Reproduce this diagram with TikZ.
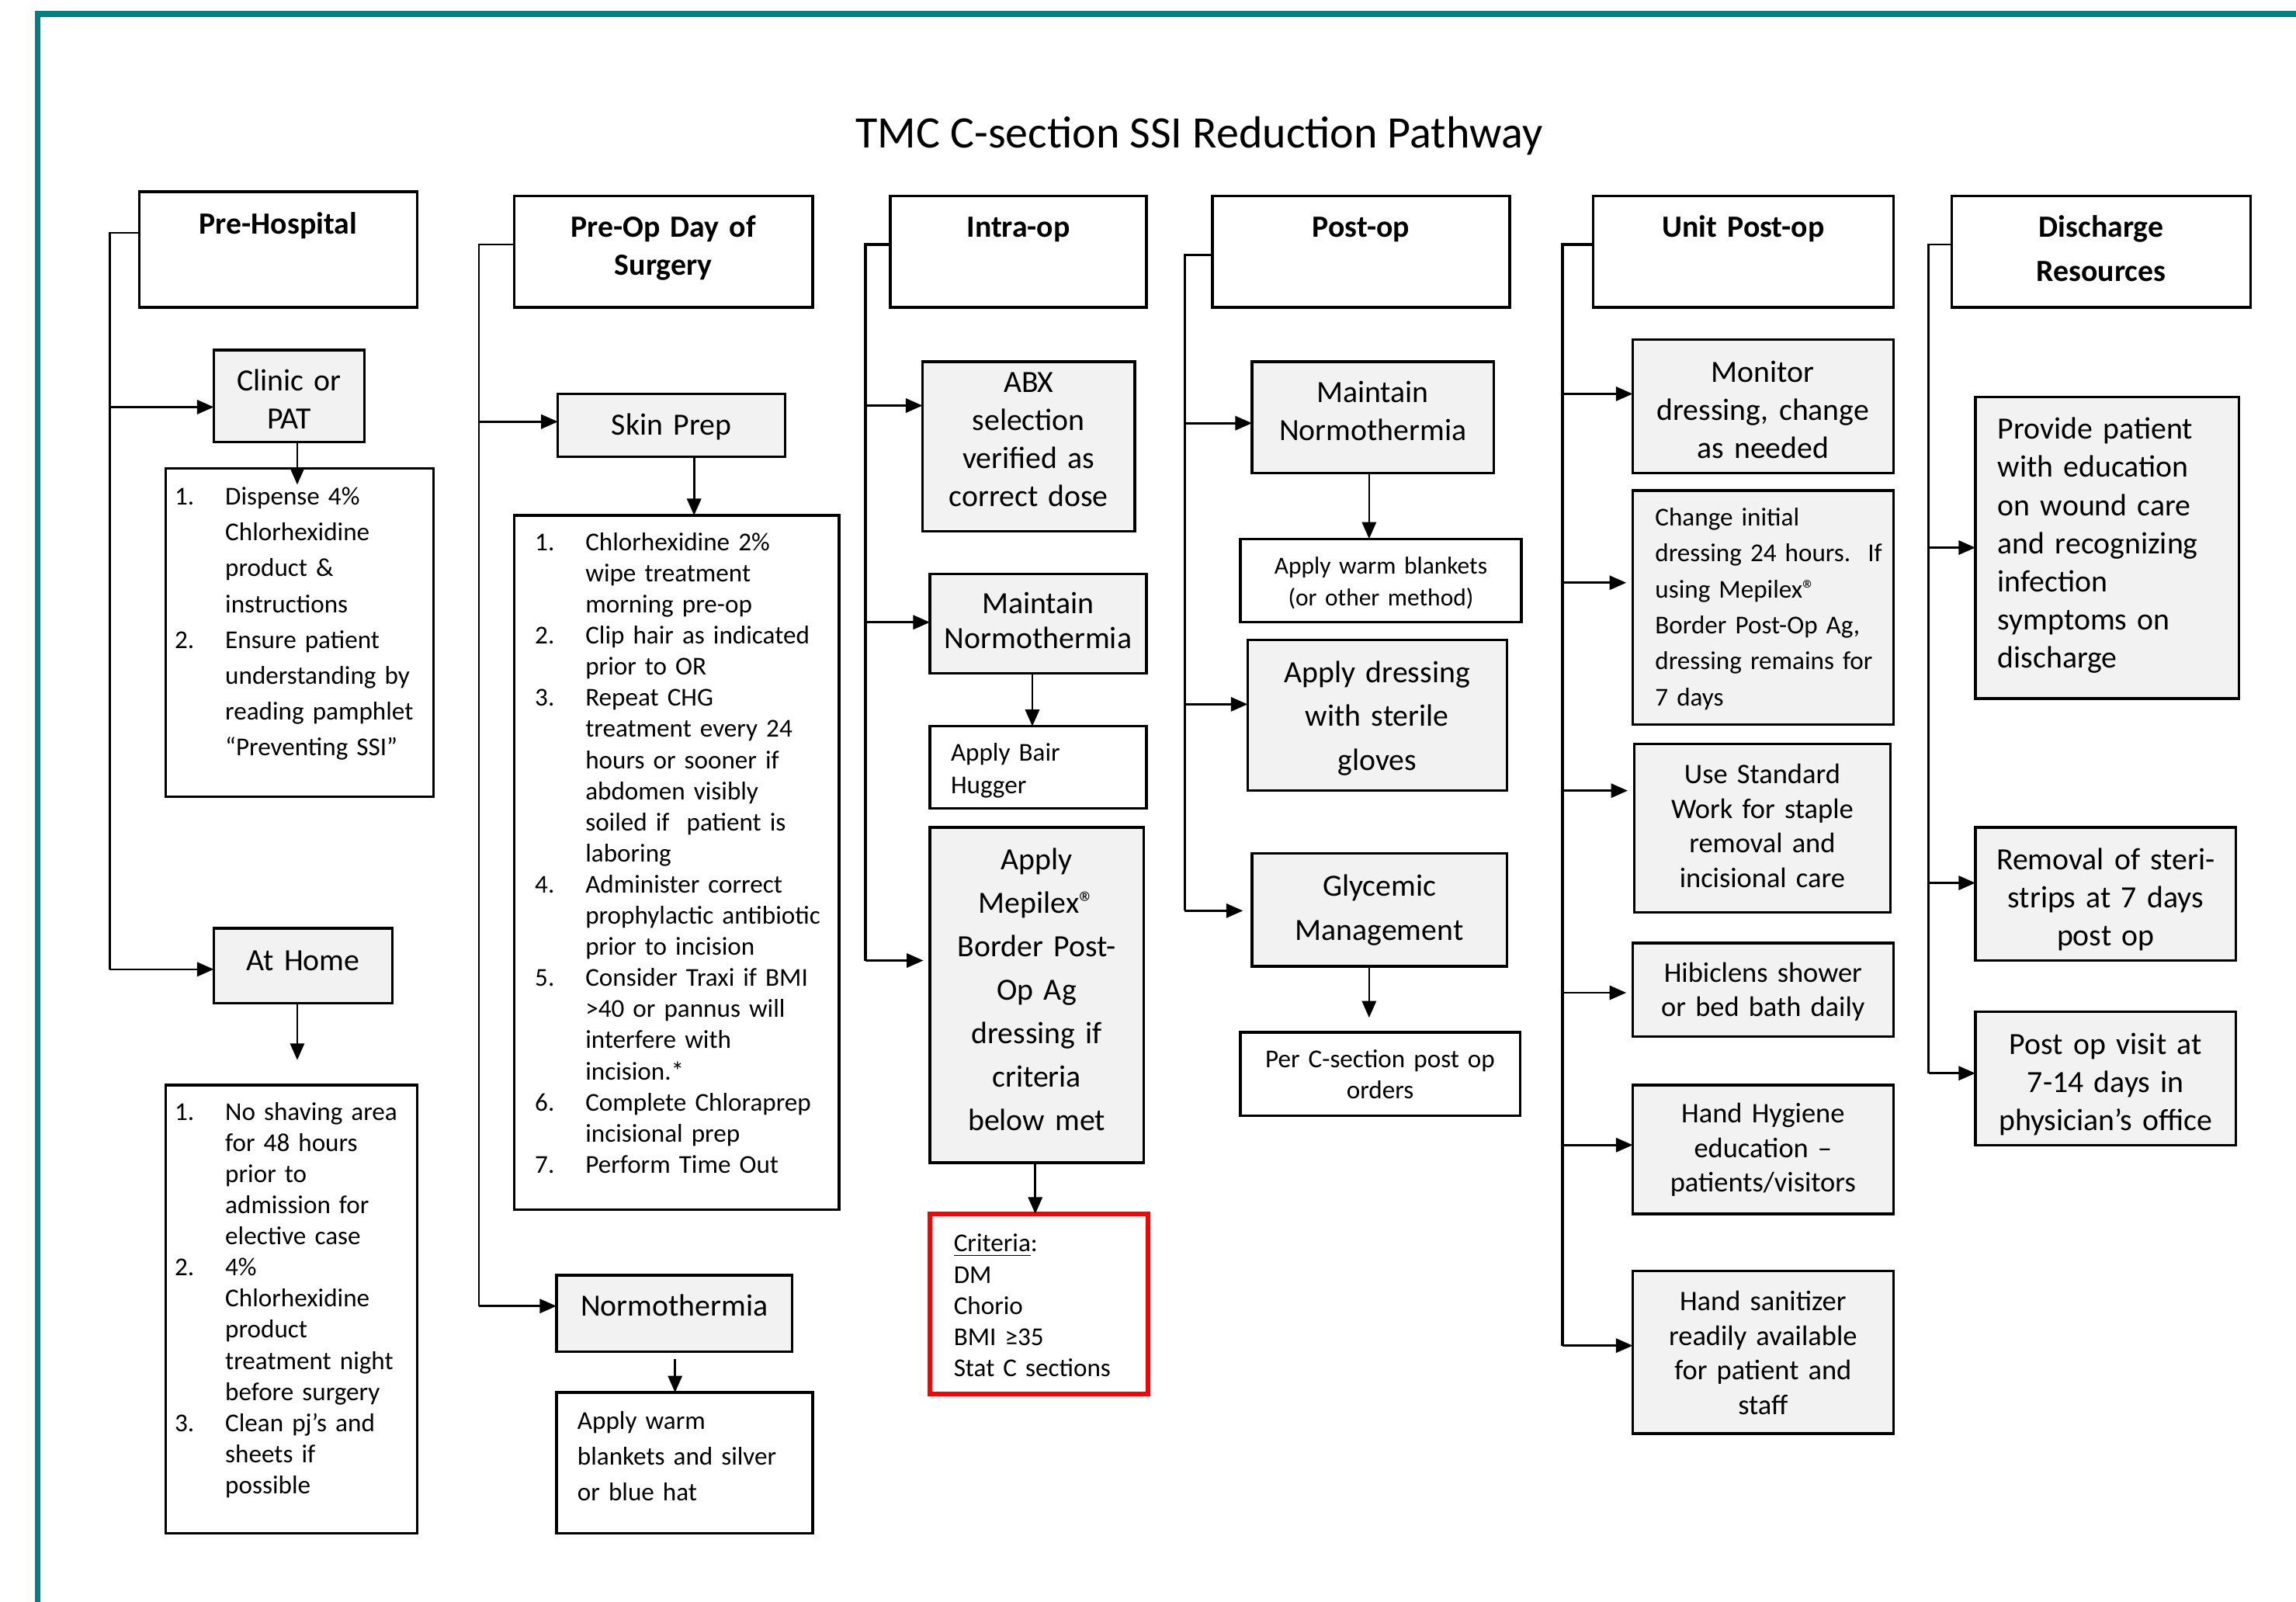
\documentclass[tikz,border=0pt]{standalone}
\usepackage{fontspec}
\setmainfont{Carlito}
\usetikzlibrary{arrows.meta}
\definecolor{teal1}{RGB}{0,128,128}
\definecolor{boxgray}{RGB}{242,242,242}
\newcommand\fs[2]{\fontsize{#1}{#2}\selectfont}
\newcommand\regmark{®}
\newlength\listind
\setlength\listind{0.69cm}
\newcommand\li[2]{\hangindent=\listind\hangafter=1\makebox[\listind][l]{#1}#2\par}
\newcommand\boxat[6]{\node[#1, minimum width={(#5-#3)*0.02cm}, minimum height={(#6-#4)*0.02cm}] (#2) at ({(#3+#5)/2},{(#4+#6)/2}) {};}
\begin{document}
\begin{tikzpicture}[x=0.02cm,y=-0.02cm,
  box/.style={draw, line width=1pt, inner sep=0pt, outer sep=0pt},
  gbox/.style={box, fill=boxgray},
  rbox/.style={draw=red, line width=1.8pt, inner sep=0pt, outer sep=0pt},
  ct/.style={anchor=base, align=center, text width=8cm, inner sep=0pt, yshift=-0.02cm},
  lt/.style={anchor=base west, align=left, text width=8cm, inner sep=0pt, yshift=-0.02cm},
  conn/.style={draw, line width=0.8pt},
  trunk/.style={draw, line width=1.3pt},
  arr/.style={draw, line width=0.8pt, -{Triangle[length=6.5pt,width=5.5pt]}},
  hd/.style={ct, font=\bfseries\fs{12}{14.8}}
]
\useasboundingbox (0,0) rectangle (1568,1094);
\draw[teal1, line width=2.3pt, line join=miter] (25.8,1110) -- (25.8,9.7) -- (1580,9.7);

\node[anchor=base, inner sep=0pt, font=\fs{17.5}{21}] (title) at (819,101) {TMC C-section SSI Reduction Pathway};

% ---------- boxes ----------
\boxat{box}{h1}{95}{131}{285}{210}
\boxat{gbox}{clinic}{146}{239}{249}{302}
\boxat{box}{list1}{113}{320}{296}{544}
\boxat{gbox}{athome}{146}{634}{268}{685}
\boxat{box}{list2}{113}{741}{285}{1047}

\boxat{box}{h2}{351}{134}{555}{210}
\boxat{gbox}{skin}{381}{269}{536}{312}
\boxat{box}{skinlist}{351}{352}{573}{826}
\boxat{gbox}{normo}{380}{871}{541}{923}
\boxat{box}{warm2}{380}{951}{555}{1047}

\boxat{box}{h3}{608}{134}{783}{210}
\boxat{gbox}{abx}{630}{247}{775}{363}
\boxat{gbox}{maint3}{635}{392}{783}{460}
\boxat{box}{bair}{635}{496}{783}{552}
\boxat{gbox}{mepi}{635}{565}{781}{794}
\boxat{rbox}{crit}{635}{829}{784}{952}

\boxat{box}{h4}{828}{134}{1031}{210}
\boxat{gbox}{maint4}{855}{247}{1020}{323}
\boxat{box}{warm4}{847}{368}{1039}{425}
\boxat{gbox}{dress}{852}{437}{1029}{540}
\boxat{gbox}{glyc}{855}{583}{1029}{660}
\boxat{box}{perc}{847}{705}{1038}{762}

\boxat{box}{h5}{1088}{134}{1293}{210}
\boxat{gbox}{monitor}{1115}{232}{1293}{323}
\boxat{gbox}{change}{1115}{335}{1293}{495}
\boxat{gbox}{usestd}{1116}{508}{1291}{623}
\boxat{gbox}{hibi}{1115}{644}{1293}{708}
\boxat{gbox}{hyg}{1115}{741}{1293}{829}
\boxat{gbox}{sanit}{1115}{868}{1293}{979}

\boxat{box}{h6}{1333}{134}{1537}{210}
\boxat{gbox}{provide}{1349}{271}{1529}{477}
\boxat{gbox}{removal}{1349}{565}{1527}{656}
\boxat{gbox}{visit}{1349}{691}{1527}{782}

% ---------- texts ----------
\node[hd] (h1-t) at (190,159) {Pre-Hospital};
\node[hd] (h2-t) at (453,161) {Pre-Op Day of\\Surgery};
\node[hd] (h3-t) at (695.5,161) {Intra-op};
\node[hd] (h4-t) at (929.5,161) {Post-op};
\node[hd] (h5-t) at (1190.5,161) {Unit Post-op};
\node[hd, font=\bfseries\fs{12}{17.1}] (h6-t) at (1435,161) {Discharge\\Resources};

\node[ct, font=\fs{12}{14.8}] (clinic-t) at (197.5,266) {Clinic or\\PAT};
\node[lt, font=\fs{10}{13.9}] (list1-t) at (119,344) {\li{1.}{Dispense 4\%\newline Chlorhexidine\newline product \&\newline instructions}\li{2.}{Ensure patient\newline understanding by\newline reading pamphlet\newline “Preventing SSI”}};
\node[ct, font=\fs{12}{14.8}] (athome-t) at (207,662) {At Home};
\node[lt, font=\fs{10}{12.1}] (list2-t) at (119,764) {\li{1.}{No shaving area\newline for 48 hours\newline prior to\newline admission for\newline elective case}\li{2.}{4\%\newline Chlorhexidine\newline product\newline treatment night\newline before surgery}\li{3.}{Clean pj’s and\newline sheets if\newline possible}};

\node[ct, font=\fs{12}{14.8}] (skin-t) at (458.5,296) {Skin Prep};
\node[lt, font=\fs{10}{12.1}] (skinlist-t) at (365,375) {\li{1.}{Chlorhexidine 2\%\newline wipe treatment\newline morning pre-op}\li{2.}{Clip hair as indicated\newline prior to OR}\li{3.}{Repeat CHG\newline treatment every 24\newline hours or sooner if\newline abdomen visibly\newline soiled if~ patient is\newline laboring}\li{4.}{Administer correct\newline prophylactic antibiotic\newline prior to incision}\li{5.}{Consider Traxi if BMI\newline >40 or pannus will\newline interfere with\newline incision.*}\li{6.}{Complete Chloraprep\newline incisional prep}\li{7.}{Perform Time Out}};
\node[ct, font=\fs{12}{14.8}] (normo-t) at (460.5,898) {Normothermia};
\node[lt, font=\fs{10}{13.9}] (warm2-t) at (394,975) {Apply warm\\blankets and silver\\or blue hat};

\node[ct, font=\fs{12}{14.8}] (abx-t) at (702.5,267) {ABX\\selection\\verified as\\correct dose};
\node[ct, font=\fs{12}{13.7}] (maint3-t) at (709,418) {Maintain\\Normothermia};
\node[lt, font=\fs{10}{12.5}] (bair-t) at (649,519) {Apply Bair\\Hugger};
\node[ct, font=\fs{12}{16.9}] (mepi-t) at (708,593) {Apply\\Mepilex\regmark\\Border Post-\\Op Ag\\dressing if\\criteria\\below met};
\node[lt, font=\fs{10}{12.1}] (crit-t) at (651,854) {\underline{Criteria}:\\DM\\Chorio\\BMI ≥35\\Stat C sections};

\node[ct, font=\fs{12}{14.8}] (maint4-t) at (937.5,274) {Maintain\\Normothermia};
\node[ct, font=\fs{9.5}{12.5}] (warm4-t) at (943,391) {Apply warm blankets\\(or other method)};
\node[ct, font=\fs{12}{17.1}] (dress-t) at (940.5,465) {Apply dressing\\with sterile\\gloves};
\node[ct, font=\fs{12}{17.1}] (glyc-t) at (942,611) {Glycemic\\Management};
\node[ct, font=\fs{10}{12}] (perc-t) at (942.5,728) {Per C-section post op\\orders};

\node[ct, font=\fs{12}{14.8}] (monitor-t) at (1204,260) {Monitor\\dressing, change\\as needed};
\node[lt, font=\fs{10}{14}] (change-t) at (1130,358) {Change initial\\dressing 24 hours.\ \ If\\using Mepilex\regmark\\Border Post-Op Ag,\\dressing remains for\\7 days};
\node[ct, font=\fs{11}{13.5}] (usestd-t) at (1203.5,534) {Use Standard\\Work for staple\\removal and\\incisional care};
\node[ct, font=\fs{11}{13.1}] (hibi-t) at (1204,670) {Hibiclens shower\\or bed bath daily};
\node[ct, font=\fs{11}{13.4}] (hyg-t) at (1204,766) {Hand Hygiene\\education –\\patients/visitors};
\node[ct, font=\fs{11}{13.5}] (sanit-t) at (1204,894) {Hand sanitizer\\readily available\\for patient and\\staff};

\node[lt, font=\fs{12}{14.8}] (provide-t) at (1364,299) {Provide patient\\with education\\on wound care\\and recognizing\\infection\\symptoms on\\discharge};
\node[ct, font=\fs{12}{14.8}] (removal-t) at (1438,593) {Removal of steri-\\strips at 7 days\\post op};
\node[ct, font=\fs{12}{14.8}] (visit-t) at (1438,719) {Post op visit at\\7-14 days in\\physician’s office};

% ---------- connectors: column 1 ----------
\coordinate (t1a) at (75,159);
\coordinate (t1b) at (75,278);
\coordinate (t1c) at (75,662);
\draw[conn] (h1.west |- t1a) -- (t1a) -- (t1c);
\draw[arr] (t1b) -- (clinic.west |- t1b);
\draw[arr] (t1c) -- (athome.west |- t1c);
\coordinate (v1) at (203,331);
\draw[arr] (clinic.south -| v1) -- (v1);
\coordinate (v2) at (203,724);
\draw[arr] (athome.south -| v2) -- (v2);

% ---------- column 2 ----------
\coordinate (t2a) at (327,167);
\coordinate (t2b) at (327,288);
\coordinate (t2c) at (327,892);
\draw[conn] (h2.west |- t2a) -- (t2a) -- (t2c);
\draw[arr] (t2b) -- (skin.west |- t2b);
\draw[arr] (t2c) -- (normo.west |- t2c);
\coordinate (v3) at (474,352);
\draw[arr] (skin.south -| v3) -- (v3);
\coordinate (v4) at (461,951);
\draw[arr] ([yshift=-3pt]normo.south -| v4) -- (v4);

% ---------- column 3 ----------
\coordinate (t3a) at (591,167);
\coordinate (t3b) at (591,277);
\coordinate (t3c) at (591,425);
\coordinate (t3d) at (591,656);
\draw[trunk] (h3.west |- t3a) -- (t3a) -- (t3d);
\draw[arr] (t3b) -- (abx.west |- t3b);
\draw[arr] (t3c) -- (maint3.west |- t3c);
\draw[arr, shorten >=2.5pt] (t3d) -- (mepi.west |- t3d);
\coordinate (v5) at (705,496);
\draw[arr] (maint3.south -| v5) -- (v5);
\coordinate (v6) at (707,829);
\draw[arr] (mepi.south -| v6) -- (v6);

% ---------- column 4 ----------
\coordinate (t4a) at (809,174);
\coordinate (t4b) at (809,289);
\coordinate (t4c) at (809,481);
\coordinate (t4d) at (809,622);
\draw[conn] (h4.west |- t4a) -- (t4a) -- (t4d);
\draw[arr] (t4b) -- (maint4.west |- t4b);
\draw[arr] (t4c) -- (dress.west |- t4c);
\draw[arr, shorten >=3.5pt] (t4d) -- (glyc.west |- t4d);
\coordinate (v7) at (935,368);
\draw[arr] (maint4.south -| v7) -- (v7);
\coordinate (v8) at (935,695);
\draw[arr] (glyc.south -| v8) -- (v8);

% ---------- column 5 ----------
\coordinate (t5a) at (1067,167);
\coordinate (t5b) at (1067,269);
\coordinate (t5c) at (1067,398);
\coordinate (t5d) at (1067,540);
\coordinate (t5e) at (1067,678);
\coordinate (t5f) at (1067,782);
\coordinate (t5g) at (1067,919);
\draw[trunk] (h5.west |- t5a) -- (t5a) -- (t5g);
\draw[arr] (t5b) -- (monitor.west |- t5b);
\draw[arr, shorten >=2.5pt] (t5c) -- (change.west |- t5c);
\draw[arr, shorten >=2.5pt] (t5d) -- (usestd.west |- t5d);
\draw[arr, shorten >=2.5pt] (t5e) -- (hibi.west |- t5e);
\draw[arr] (t5f) -- (hyg.west |- t5f);
\draw[arr] (t5g) -- (sanit.west |- t5g);

% ---------- column 6 ----------
\coordinate (t6a) at (1317,167);
\coordinate (t6b) at (1317,374);
\coordinate (t6c) at (1317,603);
\coordinate (t6d) at (1317,733);
\draw[conn] (h6.west |- t6a) -- (t6a) -- (t6d);
\draw[arr] (t6b) -- (provide.west |- t6b);
\draw[arr] (t6c) -- (removal.west |- t6c);
\draw[arr] (t6d) -- (visit.west |- t6d);
\end{tikzpicture}
\end{document}
